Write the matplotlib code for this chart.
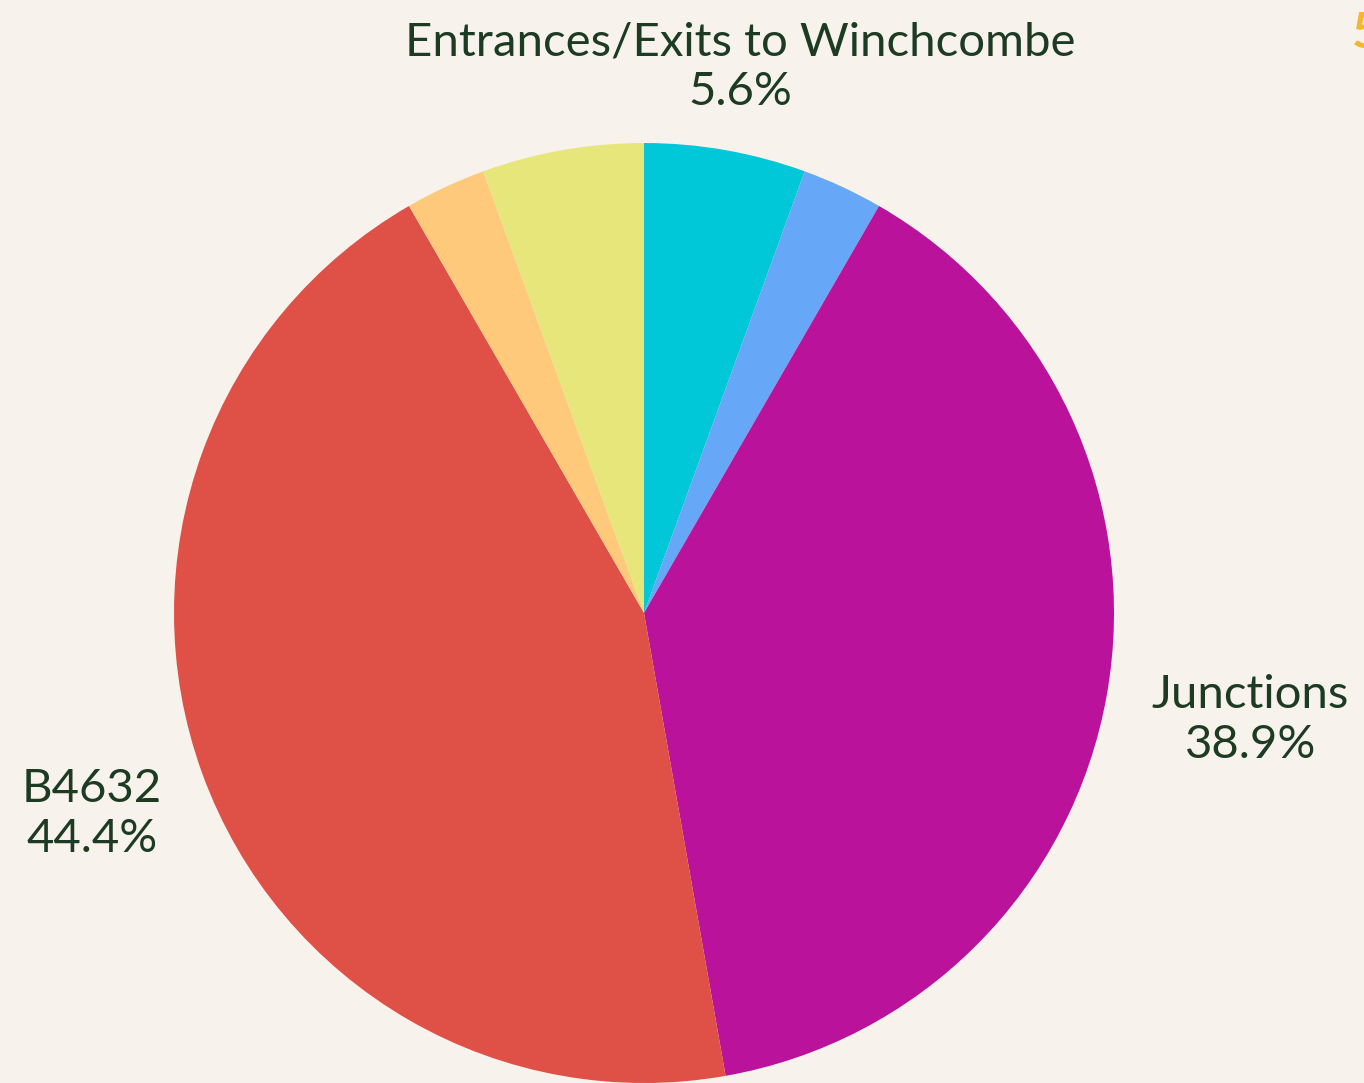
import matplotlib.pyplot as plt
import numpy as np

# Categories in clockwise order from 12 o'clock
categories = ["Entrances/Exits to Winchcombe", "Other A", "Junctions",
              "B4632", "Other B", "Other C"]
counts = [2, 1, 14, 16, 1, 2]
show_label = [True, False, True, True, False, False]
colors = ["#00c8d9", "#66a7f7", "#bb129b", "#df5047", "#ffc97b", "#e6e67a"]
label_dist = [1.18, 1.0, 1.31, 1.25, 1.0, 1.0]

bg = "#f7f3ec"
text_color = "#1d3b23"

fig = plt.figure(figsize=(13.64, 10.83), dpi=100, facecolor=bg)
ax = fig.add_axes([0, 0, 1, 1])
ax.set_facecolor(bg)

wedges, _ = ax.pie(counts, colors=colors, startangle=90, counterclock=False,
                   radius=1.0, wedgeprops=dict(linewidth=0))

# centre at (644, 613) px from top-left, radius 470 px
r_px = 470.0
ax.set_xlim(-644 / r_px, (1364 - 644) / r_px)
ax.set_ylim(-(1083 - 613) / r_px, 613 / r_px)
ax.set_aspect("equal")
ax.axis("off")

total = sum(counts)
for w, name, n, show, d in zip(wedges, categories, counts, show_label, label_dist):
    if not show:
        continue
    ang = np.deg2rad((w.theta1 + w.theta2) / 2)
    x, y = d * np.cos(ang), d * np.sin(ang)
    ax.text(x, y, f"{name}\n{100 * n / total:.1f}%", ha="center", va="center",
            fontsize=34, color=text_color, family="Lato", linespacing=1.22)

# partially visible title glyph at the top-right edge (cut off in the original too)
fig.text(1352 / 1364, 1 - 33 / 1083, "5", color="#f5b72b", fontsize=36,
         family="Lato", fontweight="bold", ha="left", va="center")

fig.savefig("out.png", dpi=100, facecolor=bg)
